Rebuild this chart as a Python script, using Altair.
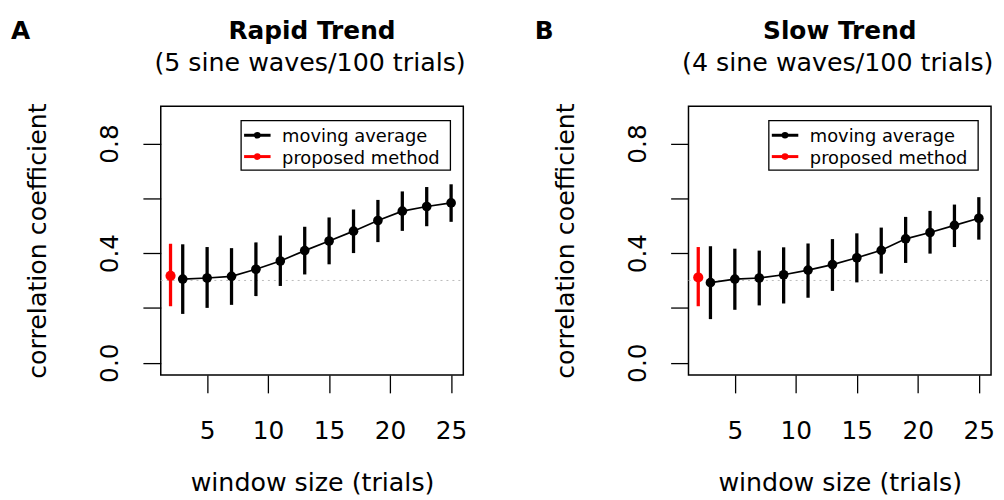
import altair as alt
import pandas as pd

# ---------------- data ----------------
windows = [3, 5, 7, 9, 11, 13, 15, 17, 19, 21, 23, 25]

rapid_mean = [0.305, 0.309, 0.315, 0.341, 0.371, 0.409, 0.444, 0.480, 0.519, 0.553, 0.570, 0.583]
rapid_lo = [0.178, 0.200, 0.211, 0.243, 0.280, 0.322, 0.359, 0.400, 0.440, 0.481, 0.498, 0.514]
rapid_hi = [0.432, 0.422, 0.418, 0.439, 0.464, 0.496, 0.530, 0.559, 0.594, 0.625, 0.641, 0.651]

slow_mean = [0.292, 0.305, 0.309, 0.321, 0.338, 0.358, 0.383, 0.410, 0.452, 0.475, 0.501, 0.527]
slow_lo = [0.159, 0.193, 0.209, 0.216, 0.237, 0.262, 0.293, 0.325, 0.364, 0.398, 0.422, 0.449]
slow_hi = [0.425, 0.416, 0.409, 0.421, 0.435, 0.451, 0.472, 0.493, 0.532, 0.554, 0.577, 0.604]

proposed_x = [2]
rapid_prop_mean = [0.317]
rapid_prop_lo = [0.206]
rapid_prop_hi = [0.434]
slow_prop_mean = [0.311]
slow_prop_lo = [0.206]
slow_prop_hi = [0.422]

reference_level = [0.30]

x_ticks = [5, 10, 15, 20, 25]
y_ticks = [0.0, 0.2, 0.4, 0.6, 0.8]

legend_labels = ["moving average", "proposed method"]
legend_colors = ["black", "#FF0000"]

FONT = "DejaVu Sans"
W, H = 305, 271


def panel(letter, title, subtitle, mean, lo, hi, pmean, plo, phi, letter_x, anchor=False):
    df = pd.DataFrame({"w": windows, "m": mean, "lo": lo, "hi": hi})
    pdf = pd.DataFrame({"w": proposed_x, "m": pmean, "lo": plo, "hi": phi})
    rdf = pd.DataFrame({"ref": reference_level})

    xs = alt.Scale(domain=[1.2, 26.0], nice=False, zero=False)
    ys = alt.Scale(domain=[-0.045, 0.936], nice=False, zero=False)
    xaxis = alt.Axis(values=x_ticks, title="window size (trials)", tickSize=18,
                     labelPadding=46.3, labelBaseline="alphabetic", labelFlush=False,
                     labelOverlap=False, titleY=116, titleBaseline="alphabetic",
                     grid=False, domain=False, labelFont=FONT, titleFont=FONT,
                     labelFontSize=25, titleFontSize=25.5, titleFontWeight="normal",
                     labelColor="black", titleColor="black", tickColor="black", tickWidth=1.3)
    yaxis = alt.Axis(values=y_ticks, title="correlation coefficient", tickSize=18,
                     labelAngle=270, labelAlign="center", labelBaseline="alphabetic",
                     labelPadding=25.7, labelOverlap=False,
                     labelExpr="(round(datum.value*10) % 4 == 0) ? format(datum.value, '.1f') : ''",
                     titleX=-116, titleAngle=270, titleBaseline="alphabetic",
                     grid=False, domain=False, labelFont=FONT, titleFont=FONT,
                     labelFontSize=25, titleFontSize=25.5, titleFontWeight="normal",
                     labelColor="black", titleColor="black", tickColor="black", tickWidth=1.3)

    def X():
        return alt.X("w:Q", scale=xs, axis=xaxis)

    def Y(f):
        return alt.Y(f + ":Q", scale=ys, axis=yaxis)

    dotted = alt.Chart(rdf).mark_rule(color="#BBBBBB", strokeDash=[2, 4], strokeWidth=1).encode(
        y=Y("ref"), x=alt.value(0), x2=alt.value(W))
    bars = alt.Chart(df).mark_rule(color="black", strokeWidth=3.3).encode(
        x=X(), y=Y("lo"), y2="hi:Q")
    line = alt.Chart(df).mark_line(color="black", strokeWidth=1.7).encode(x=X(), y=Y("m"))
    pts = alt.Chart(df).mark_circle(color="black", size=95, opacity=1).encode(x=X(), y=Y("m"))
    pbar = alt.Chart(pdf).mark_rule(color="#FF0000", strokeWidth=3.3).encode(
        x=X(), y=Y("lo"), y2="hi:Q")
    ppt = alt.Chart(pdf).mark_circle(color="#FF0000", size=105, opacity=1).encode(x=X(), y=Y("m"))

    one = pd.DataFrame({"k": [0]})
    layers = [dotted, bars, line, pts, pbar, ppt]

    # legend
    layers.append(alt.Chart(one).mark_rect(fill="white", stroke="black", strokeWidth=1.3).encode(
        x=alt.value(81), x2=alt.value(292), y=alt.value(14.5), y2=alt.value(64.5)))
    legend_y = [29.3, 50.8]
    legend_text_y = [36.6, 58.1]
    for lab, col, ly, ty in zip(legend_labels, legend_colors, legend_y, legend_text_y):
        layers.append(alt.Chart(one).mark_rule(color=col, strokeWidth=3).encode(
            x=alt.value(84), x2=alt.value(110.7), y=alt.value(ly)))
        layers.append(alt.Chart(one).mark_circle(color=col, size=45, opacity=1).encode(
            x=alt.value(97.3), y=alt.value(ly)))
        layers.append(alt.Chart(one).mark_text(text=lab, font=FONT, fontSize=18, align="left",
                                               baseline="alphabetic", color="black").encode(
            x=alt.value(122.3), y=alt.value(ty)))

    # titles
    layers.append(alt.Chart(one).mark_text(text=title, font=FONT, fontSize=25, fontWeight="bold",
                                           align="center", baseline="alphabetic", color="black").encode(
        x=alt.value(W / 2), y=alt.value(-67.3)))
    layers.append(alt.Chart(one).mark_text(text=subtitle, font=FONT, fontSize=25.5, align="center",
                                           baseline="alphabetic", color="black").encode(
        x=alt.value(W / 2 - 2), y=alt.value(-35.7)))
    layers.append(alt.Chart(one).mark_text(text=letter, font=FONT, fontSize=25, fontWeight="bold",
                                           align="left", baseline="alphabetic", color="black").encode(
        x=alt.value(letter_x), y=alt.value(-67.3)))
    if anchor:
        layers.append(alt.Chart(one).mark_rect(opacity=0).encode(
            x=alt.value(-153), x2=alt.value(-152), y=alt.value(-96), y2=alt.value(-95)))

    return alt.layer(*layers).properties(width=W, height=H)


a = panel("A", "Rapid Trend", "(5 sine waves/100 trials)", rapid_mean, rapid_lo, rapid_hi,
          rapid_prop_mean, rapid_prop_lo, rapid_prop_hi, -151, anchor=True)
b = panel("B", "Slow Trend", "(4 sine waves/100 trials)", slow_mean, slow_lo, slow_hi,
          slow_prop_mean, slow_prop_lo, slow_prop_hi, -155)

chart = alt.hconcat(a, b, spacing=227, bounds="flush", padding=0).configure(
    background="white"
).configure_view(
    stroke="black", strokeWidth=1.5
).configure_axis(
    labelFont=FONT, titleFont=FONT, labelFontSize=25, titleFontSize=25.5,
    titleFontWeight="normal", labelColor="black", titleColor="black",
    tickColor="black", tickWidth=1.3, grid=False, domain=False
)

chart.save("out.html", embed_options={"renderer": "svg", "actions": False})
